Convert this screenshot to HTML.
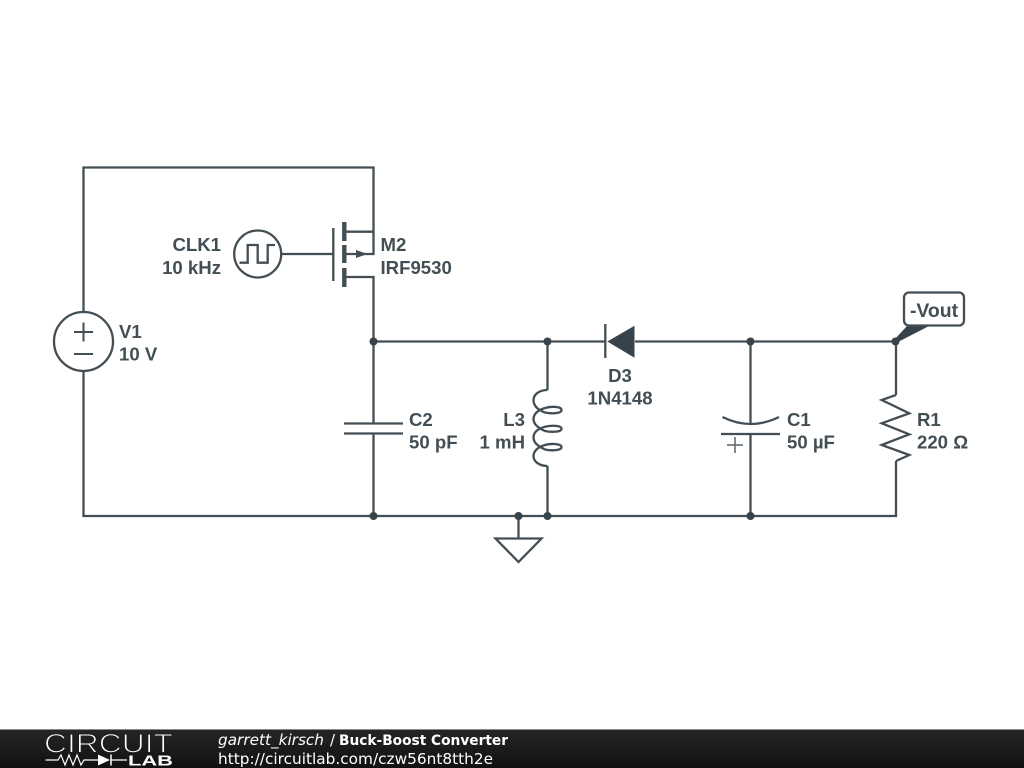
<!DOCTYPE html>
<html>
<head>
<meta charset="utf-8">
<style>
html,body{margin:0;padding:0;background:#fff;width:1024px;height:768px;overflow:hidden}
svg{display:block}
.l{font:bold 18.6px "Liberation Sans",sans-serif;fill:#434e54}
.w{fill:none;stroke:#434e54;stroke-width:2.3}
.t{fill:none;stroke:#5a646a;stroke-width:1.500}
.d{fill:#37424a}
.f{font-family:"DejaVu Sans",sans-serif;fill:#fff}
</style>
</head>
<body>
<svg width="1024" height="768" viewBox="0 0 1024 768" xmlns="http://www.w3.org/2000/svg">
<defs>
<linearGradient id="bar" x1="0" y1="0" x2="0" y2="1"><stop offset="0" stop-color="#262626"/><stop offset="1" stop-color="#111"/></linearGradient>
</defs>
<rect width="1024" height="768" fill="#fff"/>

<!-- wires -->
<path class="w" d="M83.500 312V167.500H373.500V254H345M345 231.700H373.500M345 277H373.500V423.500M373.500 433.500V516M83.500 371V516H896V461M373.500 341.500H605M635 341.500H896V395M547.500 341.500V390M547.500 466V516M750.500 341.500V423M750.500 434V516M281 254H333M518.500 516V538"/>

<!-- V1 -->
<circle class="w" cx="83.500" cy="341.500" r="29.500"/>
<path class="w" d="M74 332H93M83.500 322.500V341.500M74 354H93" style="stroke-width:2"/>

<!-- CLK1 -->
<circle class="w" cx="257.700" cy="254" r="23.500"/>
<path class="w" d="M239.500 262.700H247.700V245H257.700V262.700H267.700V245H275"/>

<!-- M2 -->
<path class="w" d="M333.300 228V281"/>
<path d="M344.300 222V241M344.300 245V263M344.300 268V287" fill="none" stroke="#434e54" stroke-width="4.400"/>
<path d="M356 250L367.500 254L356 258Z" fill="#434e54"/>

<!-- C2 -->
<path class="w" d="M344 423.500H403M344 433.500H403"/>

<!-- L3 -->
<path class="w" d="M547.500 390C540 390 533.500 394 533.500 400C533.500 406 538 410 545 412.500C552 414 561.500 413.500 561.500 410C561.500 406.500 552 406 545 408C538 410 533.500 414 533.500 419C533.500 424 538 428 545 431C552 432.500 561.500 432 561.500 428.700C561.500 425.500 552 425 545 426.700C538 428.700 533.500 432 533.500 437.500C533.500 443 538 446 545 449.500C552 451 561.500 450.500 561.500 447C561.500 444 552 443 545 445C538 447 533.500 451 533.500 456C533.500 462 540 466 547.500 466"/>

<!-- D3 -->
<path d="M634.500 325.700V357.700L607.300 341.500Z" fill="#37424a"/>
<path class="w" d="M605.300 324V358"/>

<!-- C1 -->
<path class="w" d="M722.500 417Q750.500 431 779 417M721 434H780"/>
<path class="t" d="M727 445H743M735 437V453"/>

<!-- R1 -->
<path class="w" d="M896 395L881.700 400L909.300 413.300L881.700 423.300L909.300 434.300L881.700 445L909.300 455L896 461"/>

<!-- ground -->
<path class="w" d="M495.500 538.500H541.500L518.500 562Z"/>

<!-- junctions -->
<circle class="d" cx="373.500" cy="341.500" r="4"/>
<circle class="d" cx="547.500" cy="341.500" r="4"/>
<circle class="d" cx="750.500" cy="341.500" r="4"/>
<circle class="d" cx="895.500" cy="341.500" r="4"/>
<circle class="d" cx="373.500" cy="516" r="4"/>
<circle class="d" cx="518.500" cy="516" r="4"/>
<circle class="d" cx="547.500" cy="516" r="4"/>
<circle class="d" cx="750.500" cy="516" r="4"/>

<!-- -Vout flag -->
<path d="M894 340L908 325H931L896 343Z" fill="#37424a"/>
<rect x="904" y="292.500" width="60" height="33" rx="5" fill="#fff" stroke="#434e54" stroke-width="2.300"/>
<text class="l" x="934" y="317" text-anchor="middle" style="font-size:19.400px">-Vout</text>

<!-- labels -->
<text class="l" x="119" y="338">V1</text>
<text class="l" x="119" y="360.500">10 V</text>
<text class="l" x="221" y="251" text-anchor="end">CLK1</text>
<text class="l" x="221" y="274" text-anchor="end">10 kHz</text>
<text class="l" x="380.500" y="251">M2</text>
<text class="l" x="380.500" y="274">IRF9530</text>
<text class="l" x="409" y="426">C2</text>
<text class="l" x="409" y="448.500">50 pF</text>
<text class="l" x="525" y="426" text-anchor="end">L3</text>
<text class="l" x="525" y="448.500" text-anchor="end">1 mH</text>
<text class="l" x="620" y="382" text-anchor="middle">D3</text>
<text class="l" x="620" y="404.500" text-anchor="middle">1N4148</text>
<text class="l" x="787" y="426">C1</text>
<text class="l" x="787" y="448.500">50 µF</text>
<text class="l" x="917" y="426">R1</text>
<text class="l" x="917" y="448.500">220 Ω</text>

<!-- footer -->
<rect x="0" y="729" width="1024" height="39" fill="url(#bar)"/>
<rect x="0" y="729" width="1024" height="1" fill="#8a8a8a"/>
<text x="44" y="752.500" textLength="129" lengthAdjust="spacingAndGlyphs" style="font:26.500px 'Liberation Sans',sans-serif;fill:#fff;stroke:#1f1f1f;stroke-width:1.100">CIRCUIT</text>
<path d="M45.500 760H58L61 755L65 765L69 755L73 765L77 755L81 765L84 760H98M111 760H127" fill="none" stroke="#fff" stroke-width="1.200"/>
<path d="M98 754.500V765.500L110 760Z" fill="#fff"/>
<path d="M111 754.500V765.500" stroke="#fff" stroke-width="1.500"/>
<text x="128" y="765.500" textLength="45" lengthAdjust="spacingAndGlyphs" style="font:bold 15px 'Liberation Sans',sans-serif;fill:#fff">LAB</text>
<text class="f" x="218" y="745" font-size="15.300" font-style="italic" textLength="106" lengthAdjust="spacingAndGlyphs">garrett_kirsch</text>
<text class="f" x="330" y="745" font-size="15">/</text>
<text class="f" x="339" y="745" font-size="14.200" font-weight="bold" textLength="169" lengthAdjust="spacingAndGlyphs">Buck-Boost Converter</text>
<text class="f" x="218" y="764" font-size="15.300" textLength="275" lengthAdjust="spacingAndGlyphs">http://circuitlab.com/czw56nt8tth2e</text>
</svg>
</body>
</html>
